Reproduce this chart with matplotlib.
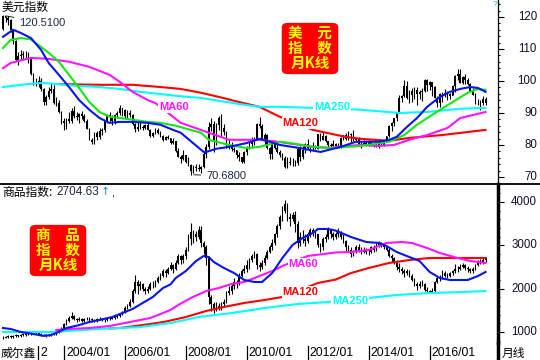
import numpy as np
import matplotlib
matplotlib.use("Agg")
import matplotlib.pyplot as plt
from matplotlib.patches import FancyBboxPatch
from matplotlib.lines import Line2D
from matplotlib.transforms import blended_transform_factory

plt.rcParams['font.family'] = ['Liberation Sans', 'Noto Sans CJK SC', 'DejaVu Sans']
CJK = ['Noto Sans CJK SC', 'DejaVu Sans']

# monthly bars, 2002/01 .. 2017/11 (index 0 = 2002/01)
usd_first_open = 116.2
usd_close = [
    120.3, 119.6, 119.0, 115.8, 112.5, 106.5, 107.9, 108.2, 108.3, 108.5, 106.9, 102.2,
    99.6, 99.6, 99.9, 97.5, 93.3, 95.1, 96.9, 97.6, 93.1, 93.2, 90.2, 86.9,
    87.5, 88.2, 87.5, 90.6, 88.9, 88.6, 89.6, 89.1, 87.6, 85.0, 81.6, 80.9,
    83.6, 82.5, 84.3, 84.6, 87.6, 89.3, 88.6, 87.6, 89.4, 89.9, 91.4, 90.9,
    89.0, 89.9, 89.5, 86.5, 84.9, 85.6, 85.5, 85.4, 86.1, 84.8, 82.9, 83.7,
    84.6, 83.8, 82.9, 81.6, 82.4, 82.1, 80.7, 81.1, 78.0, 76.3, 75.6, 76.7,
    74.6, 73.6, 72.0, 73.2, 72.9, 72.4, 73.2, 77.3, 79.5, 85.6, 86.4, 81.3,
    86.3, 88.4, 85.3, 84.1, 79.3, 80.1, 78.8, 78.4, 76.7, 76.2, 74.8, 77.9,
    79.5, 80.3, 81.1, 81.9, 86.5, 86.0, 81.7, 83.1, 78.9, 77.2, 81.2, 79.0,
    77.9, 76.8, 75.9, 73.0, 74.6, 74.3, 74.4, 74.3, 78.6, 76.2, 78.3, 80.2,
    79.1, 78.9, 79.0, 78.8, 83.3, 81.6, 82.7, 81.2, 79.9, 79.8, 80.2, 79.8,
    79.3, 82.3, 83.0, 82.0, 83.3, 83.1, 81.5, 82.1, 80.2, 80.2, 80.7, 80.0,
    81.2, 79.7, 80.1, 79.5, 80.4, 79.8, 81.5, 82.7, 86.0, 87.0, 88.4, 90.3,
    94.8, 95.3, 98.4, 94.6, 96.9, 95.5, 97.3, 95.9, 96.4, 97.0, 100.2, 98.6,
    99.6, 98.2, 94.6, 93.1, 95.9, 96.1, 95.5, 96.0, 95.4, 98.4, 101.5, 102.2,
    99.5, 101.1, 100.4, 99.1, 97.0, 95.6, 92.9, 92.7, 93.1, 94.5, 93.0,
]
usd_high = [
    120.51, 120.4, 120.2, 119.5, 116.0, 112.8, 108.9, 109.6, 109.3, 109.4, 108.9, 107.2,
    102.6, 101.0, 101.7, 101.0, 97.8, 95.6, 98.2, 99.3, 98.7, 95.0, 94.0, 90.7,
    88.3, 88.5, 90.4, 91.5, 92.3, 90.3, 89.9, 90.7, 89.6, 88.0, 85.2, 82.2,
    84.0, 84.4, 85.3, 85.4, 87.8, 89.6, 90.4, 89.3, 89.8, 90.6, 92.6, 91.6,
    91.3, 91.0, 90.8, 89.7, 86.7, 87.1, 87.5, 86.2, 86.5, 87.2, 85.1, 84.0,
    85.4, 85.3, 84.4, 83.1, 82.7, 83.0, 82.3, 82.1, 81.2, 79.1, 77.0, 78.4,
    76.9, 76.3, 74.1, 73.7, 74.0, 74.0, 73.4, 77.8, 80.4, 87.2, 88.5, 87.4,
    86.7, 89.0, 89.6, 86.6, 84.3, 81.7, 81.0, 79.4, 78.5, 77.8, 76.3, 78.2,
    79.7, 81.3, 82.5, 82.4, 87.0, 88.7, 86.4, 83.6, 83.5, 79.5, 81.5, 81.4,
    81.2, 78.5, 77.4, 76.4, 76.3, 76.2, 75.9, 75.4, 79.0, 79.6, 79.8, 80.6,
    81.8, 79.8, 80.9, 80.0, 83.5, 83.6, 84.1, 83.0, 81.2, 80.6, 81.5, 80.6,
    80.6, 82.4, 83.2, 83.6, 84.5, 83.8, 84.8, 82.5, 82.5, 80.8, 81.5, 81.1,
    81.5, 81.3, 80.6, 80.6, 80.8, 81.1, 81.6, 82.8, 86.2, 87.2, 88.5, 90.4,
    95.5, 95.5, 100.4, 100.0, 97.3, 97.8, 98.2, 98.0, 97.1, 97.8, 100.5, 100.5,
    100.0, 99.8, 98.4, 95.3, 96.3, 96.7, 97.6, 96.9, 96.3, 98.7, 102.0, 103.6,
    103.8, 101.7, 102.3, 101.0, 99.5, 97.8, 96.1, 94.2, 93.9, 95.2, 95.1,
]
usd_low = [
    115.8, 118.4, 117.6, 115.4, 111.6, 106.2, 104.9, 106.7, 106.9, 107.1, 105.5, 101.9,
    98.6, 98.4, 98.1, 96.8, 92.4, 92.6, 94.5, 96.3, 92.8, 92.1, 90.1, 86.6,
    84.7, 85.1, 87.0, 86.9, 88.4, 87.7, 86.8, 88.2, 87.3, 84.9, 81.5, 80.4,
    80.4, 81.6, 81.7, 83.0, 83.9, 86.9, 87.6, 86.3, 86.5, 88.4, 89.5, 88.9,
    88.3, 88.5, 88.6, 86.3, 83.9, 84.4, 84.9, 84.7, 84.9, 84.6, 82.5, 82.4,
    83.5, 83.3, 82.6, 81.2, 81.4, 81.9, 80.3, 80.2, 77.9, 76.1, 74.5, 75.4,
    74.4, 73.4, 70.68, 71.3, 71.9, 71.7, 71.3, 72.9, 75.8, 78.6, 84.4, 77.7,
    79.9, 84.6, 82.6, 83.0, 79.1, 78.6, 78.2, 77.7, 76.0, 74.9, 74.2, 74.3,
    76.8, 78.8, 79.0, 80.1, 81.5, 85.2, 81.5, 80.1, 78.7, 75.6, 75.7, 78.6,
    77.5, 76.3, 75.3, 72.8, 72.7, 73.6, 73.4, 73.4, 73.8, 74.9, 75.6, 77.5,
    78.6, 77.7, 78.1, 78.6, 78.7, 81.3, 81.5, 80.9, 78.6, 79.1, 79.7, 79.0,
    78.9, 79.1, 81.4, 81.5, 81.5, 80.5, 81.3, 80.8, 79.9, 79.0, 80.0, 79.7,
    79.8, 79.7, 79.2, 79.2, 78.9, 79.8, 79.8, 81.2, 82.5, 84.5, 85.8, 87.6,
    90.0, 93.4, 95.1, 94.5, 93.1, 93.3, 94.3, 92.6, 94.2, 93.8, 96.6, 96.9,
    97.3, 95.2, 94.6, 91.9, 91.9, 93.4, 95.0, 94.0, 94.5, 95.5, 96.6, 100.4,
    99.4, 99.2, 98.9, 98.8, 96.8, 95.5, 92.8, 92.5, 91.0, 92.5, 92.5,
]

cmd_first_open = 860
cmd_close = [
    870, 880, 900, 890, 910, 920, 910, 930, 950, 940, 960, 980,
    990, 980, 950, 940, 930, 920, 930, 950, 960, 990, 1030, 1080,
    1180, 1250, 1330, 1380, 1300, 1280, 1300, 1260, 1300, 1310, 1290, 1270,
    1260, 1290, 1310, 1280, 1270, 1300, 1310, 1330, 1350, 1370, 1400, 1450,
    1550, 1600, 1700, 1950, 2150, 2050, 2100, 2000, 1950, 2000, 2100, 2100,
    2150, 2250, 2300, 2400, 2350, 2450, 2550, 2450, 2600, 2750, 2650, 2750,
    2900, 3150, 3300, 3250, 3200, 3350, 3050, 2950, 2700, 1800, 1650, 1550,
    1600, 1550, 1650, 1700, 1900, 1950, 2050, 2150, 2100, 2300, 2400, 2450,
    2550, 2650, 2750, 2800, 2550, 2500, 2600, 2700, 2850, 2950, 3050, 3250,
    3450, 3650, 3800, 3950, 3650, 3600, 3700, 3500, 3050, 3200, 3150, 3100,
    3250, 3350, 3300, 3250, 3000, 2950, 3150, 3200, 3350, 3250, 3200, 3250,
    3300, 3200, 3100, 2950, 2900, 2800, 2850, 2950, 2900, 2850, 2900, 2850,
    2850, 2950, 2900, 3000, 3050, 3000, 2950, 2900, 2750, 2700, 2600, 2500,
    2450, 2400, 2350, 2400, 2300, 2200, 2100, 2050, 2100, 2100, 1980, 1950,
    1920, 1950, 2150, 2250, 2250, 2350, 2300, 2300, 2350, 2400, 2450, 2450,
    2500, 2550, 2480, 2450, 2400, 2450, 2550, 2600, 2620, 2650, 2704.63,
]
cmd_high = [
    900, 905, 925, 920, 935, 945, 940, 955, 975, 970, 985, 1005,
    1020, 1015, 995, 975, 965, 955, 960, 980, 990, 1020, 1060, 1110,
    1210, 1290, 1370, 1460, 1400, 1330, 1340, 1320, 1330, 1350, 1340, 1320,
    1300, 1320, 1350, 1330, 1310, 1330, 1340, 1360, 1380, 1400, 1430, 1480,
    1600, 1650, 1750, 2000, 2315, 2200, 2180, 2120, 2030, 2060, 2160, 2180,
    2200, 2300, 2360, 2460, 2450, 2500, 2620, 2580, 2650, 2800, 2780, 2800,
    2950, 3250, 3515, 3350, 3320, 3450, 3450, 3100, 3000, 2750, 1850, 1700,
    1700, 1680, 1700, 1760, 1950, 2050, 2100, 2250, 2200, 2350, 2450, 2550,
    2650, 2700, 2800, 2880, 2820, 2620, 2660, 2780, 2900, 3000, 3150, 3280,
    3500, 3700, 3900, 4046, 3980, 3750, 3780, 3800, 3550, 3300, 3350, 3250,
    3300, 3400, 3400, 3340, 3270, 3050, 3200, 3260, 3420, 3380, 3300, 3300,
    3400, 3340, 3250, 3120, 3010, 2950, 2900, 3000, 3020, 2960, 2960, 2940,
    2920, 2990, 3000, 3060, 3100, 3080, 3030, 2970, 2930, 2800, 2740, 2650,
    2590, 2500, 2450, 2460, 2440, 2340, 2240, 2150, 2170, 2200, 2130, 2030,
    1980, 2010, 2180, 2300, 2320, 2420, 2400, 2360, 2390, 2430, 2560, 2530,
    2560, 2600, 2580, 2520, 2480, 2490, 2580, 2660, 2680, 2700, 2740,
]
cmd_low = [
    840, 850, 860, 865, 870, 890, 890, 895, 910, 915, 920, 940,
    955, 955, 930, 915, 905, 895, 900, 910, 925, 940, 970, 1010,
    1060, 1150, 1220, 1300, 1270, 1240, 1250, 1230, 1240, 1270, 1260, 1230,
    1230, 1240, 1270, 1250, 1230, 1250, 1270, 1290, 1310, 1330, 1350, 1390,
    1430, 1520, 1570, 1680, 1900, 1880, 1980, 1950, 1880, 1900, 1960, 2020,
    2030, 2120, 2200, 2280, 2280, 2330, 2420, 2350, 2420, 2580, 2560, 2600,
    2680, 2880, 3000, 3050, 3100, 3150, 2950, 2800, 2550, 1650, 1480, 1440,
    1480, 1500, 1500, 1600, 1680, 1850, 1880, 2000, 2020, 2080, 2260, 2350,
    2380, 2450, 2620, 2700, 2450, 2400, 2460, 2550, 2680, 2820, 2900, 3000,
    3200, 3380, 3550, 3750, 3550, 3450, 3550, 3300, 2940, 2980, 3050, 2980,
    3050, 3200, 3220, 3180, 2950, 2850, 2900, 3080, 3150, 3180, 3120, 3140,
    3200, 3150, 3050, 2850, 2850, 2730, 2760, 2820, 2850, 2800, 2820, 2800,
    2780, 2820, 2850, 2870, 2960, 2950, 2920, 2860, 2720, 2620, 2560, 2420,
    2380, 2340, 2280, 2320, 2270, 2170, 2060, 1980, 2020, 2050, 1950, 1900,
    1890, 1900, 1930, 2130, 2180, 2220, 2260, 2240, 2270, 2320, 2360, 2390,
    2420, 2470, 2440, 2390, 2350, 2360, 2430, 2520, 2560, 2580, 2610,
]

# moving-average lines: (month index, value)
usd_blue_m = [0, 4, 7, 11, 15, 18, 22, 26, 30, 34, 38, 42, 46, 51, 57, 62, 67, 70, 79, 80, 84,
              89, 96, 101, 105, 109, 117, 125, 133, 139, 148, 152, 155, 159, 163, 167, 172,
              176, 180, 184, 187, 190]
usd_blue_v = [113.8, 116.0, 115.0, 113.4, 109.7, 105.6, 101.9, 98.1, 94.0, 91.0, 88.4, 86.9,
              87.2, 87.2, 86.9, 86.3, 84.7, 83.8, 77.8, 77.8, 78.8, 79.4, 80.6, 81.9, 81.0,
              80.0, 79.0, 77.8, 79.4, 81.0, 81.0, 81.6, 82.5, 85.6, 88.4, 91.9, 95.0, 96.6,
              97.5, 98.1, 97.8, 96.6]
usd_green_m = [0, 3, 7, 11, 15, 18, 22, 26, 30, 34, 38, 42, 50, 57, 62, 68, 78, 81, 89, 96,
               101, 109, 113, 122, 129, 141, 152, 158, 163, 167, 172, 177, 183, 187, 190]
usd_green_v = [110.3, 112.8, 113.4, 113.0, 110.6, 108.8, 106.0, 101.9, 97.8, 93.4, 90.3,
               88.8, 88.0, 87.2, 86.9, 86.0, 83.8, 81.6, 80.0, 79.0, 79.4, 81.0, 80.6, 79.4,
               79.0, 79.7, 81.0, 83.1, 86.3, 88.4, 90.9, 93.4, 96.3, 97.5, 97.2]
usd_ma60_m = [0, 3, 11, 18, 26, 34, 42, 46, 51, 57, 60, 70, 80, 89, 101, 109, 122, 129, 135,
              141, 148, 154, 160, 167, 175, 180, 190]
usd_ma60_v = [104.0, 105.6, 107.2, 106.9, 106.0, 104.4, 101.9, 99.7, 96.6, 94.0, 93.1, 86.9,
              84.1, 81.6, 81.6, 80.9, 79.4, 79.1, 79.7, 80.0, 79.7, 80.0, 81.6, 83.1, 85.3,
              88.4, 90.3]
usd_ma120_m = [22, 38, 51, 62, 70, 78, 85, 93, 101, 109, 122, 135, 141, 152, 160, 173, 190]
usd_ma120_v = [99.0, 98.8, 98.8, 98.1, 97.5, 96.3, 95.0, 93.4, 91.9, 88.8, 84.7, 82.5, 81.9,
               81.3, 82.2, 83.1, 84.7]
usd_ma250_m = [0, 7, 15, 22, 30, 38, 46, 54, 62, 70, 78, 85, 93, 101, 109, 121, 141, 156,
               167, 180, 190]
usd_ma250_v = [98.1, 98.8, 99.4, 99.0, 98.4, 98.1, 97.5, 96.6, 95.9, 95.2, 94.7, 93.8, 92.8,
               91.9, 91.9, 91.6, 91.0, 90.0, 90.3, 91.3, 91.6]

cmd_blue_m = [0, 3, 7, 12, 16, 19, 21, 25, 30, 34, 38, 43, 47, 51, 55, 59, 63, 66, 68, 72, 76,
              79, 81, 83, 87, 91, 95, 99, 102, 106, 110, 114, 118, 122, 124, 128, 131, 137,
              143, 148, 151, 155, 160, 164, 168, 172, 176, 183, 187, 190]
cmd_blue_v = [1092, 1070, 1000, 953, 910, 930, 980, 1092, 1160, 1230, 1277, 1346, 1438, 1530,
              1670, 1808, 2015, 2100, 2246, 2408, 2638, 2754, 2730, 2615, 2477, 2360, 2200,
              2154, 2154, 2360, 2708, 3008, 3170, 3285, 3377, 3377, 3340, 3192, 3077, 3054,
              2985, 2846, 2730, 2638, 2385, 2246, 2200, 2200, 2292, 2385]
cmd_ma60_m = [21, 26, 34, 42, 50, 58, 63, 66, 69, 74, 80, 85, 90, 95, 99, 103, 107, 110, 120,
              131, 137, 144, 151, 157, 161, 167, 172, 179, 184, 190]
cmd_ma60_v = [1046, 1070, 1092, 1138, 1230, 1323, 1438, 1510, 1623, 1785, 1946, 2015, 2108,
              2154, 2246, 2338, 2431, 2523, 2754, 2835, 2846, 2892, 3054, 3077, 3054, 2938,
              2823, 2708, 2638, 2592]
cmd_ma120_m = [42, 46, 58, 64, 72, 80, 87, 95, 103, 110, 124, 131, 137, 144, 152, 160, 168, 190]
cmd_ma120_v = [1080, 1092, 1184, 1240, 1346, 1484, 1577, 1670, 1738, 1808, 2131, 2210, 2360,
               2477, 2592, 2661, 2708, 2708]
cmd_ma250_m = [0, 19, 38, 54, 66, 77, 90, 103, 116, 128, 144, 155, 168, 181, 190]
cmd_ma250_v = [1000, 1000, 1070, 1115, 1207, 1346, 1438, 1553, 1646, 1692, 1785, 1854, 1900,
               1923, 1946]

year_labels = ['2004/01', '2006/01', '2008/01', '2010/01', '2012/01', '2014/01', '2016/01']
year_label_m = [24, 48, 72, 96, 120, 144, 168]

BLUE, GREEN, MAG, RED, CYAN = '#0a14f0', '#14e614', '#ff14ff', '#ff0000', '#00ffff'
W, H = 540, 360
fig = plt.figure(figsize=(W / 100, H / 100), dpi=100)
fig.patch.set_facecolor('white')


def px_axes(x0, y0, x1, y1):
    return fig.add_axes([x0 / W, 1 - y1 / H, (x1 - x0) / W, (y1 - y0) / H])


def draw_candles(ax, first_open, closes, highs, lows):
    closes = np.asarray(closes, float)
    opens = np.r_[first_open, closes[:-1]]
    idx = np.arange(len(closes))
    ax.vlines(idx, lows, highs, color='black', lw=0.8, zorder=2)
    ax.bar(idx, np.abs(closes - opens), bottom=np.minimum(opens, closes), width=0.65,
           color='black', lw=0, zorder=2)


def style_axes(ax, ylim, major, minor, labels, spine_w):
    ax.set_xlim(-1.18, 194.9)
    ax.set_ylim(*ylim)
    for s in ['top', 'left', 'bottom']:
        ax.spines[s].set_visible(False)
    ax.spines['right'].set_linewidth(spine_w)
    ax.set_xticks([])
    ax.yaxis.tick_right()
    ax.set_yticks(major)
    ax.set_yticks(minor, minor=True)
    ax.set_yticklabels([])
    ax.tick_params(axis='y', which='major', length=4.5, width=0.8, direction='out')
    ax.tick_params(axis='y', which='minor', length=1.2, width=0.8, direction='out')
    tr = blended_transform_factory(fig.transFigure, ax.transData)
    for v, t in zip(major, labels):
        ax.text(537 / W, v, t, transform=tr, ha='right', va='center', fontsize=8.3,
                color='#101030', clip_on=False)


ax1 = px_axes(0, 0, 498, 183)
ax2 = px_axes(0, 184, 498, 343)

draw_candles(ax1, usd_first_open, usd_close, usd_high, usd_low)
ax1.plot(usd_ma120_m, usd_ma120_v, color=RED, lw=1.5, zorder=3)
ax1.plot(usd_ma250_m, usd_ma250_v, color=CYAN, lw=1.5, zorder=3)
ax1.plot(usd_ma60_m, usd_ma60_v, color=MAG, lw=1.5, zorder=3)
ax1.plot(usd_green_m, usd_green_v, color=GREEN, lw=1.5, zorder=3)
ax1.plot(usd_blue_m, usd_blue_v, color=BLUE, lw=1.5, zorder=3)
style_axes(ax1, (68.1, 125.3), [70, 80, 90, 100, 110, 120], np.arange(70, 125, 2),
           ['70', '80', '90', '100', '110', '120'], 0.9)

draw_candles(ax2, cmd_first_open, cmd_close, cmd_high, cmd_low)
ax2.plot(cmd_ma120_m, cmd_ma120_v, color=RED, lw=1.5, zorder=3)
ax2.plot(cmd_ma250_m, cmd_ma250_v, color=CYAN, lw=1.5, zorder=3)
ax2.plot(cmd_ma60_m, cmd_ma60_v, color=MAG, lw=1.5, zorder=3)
ax2.plot(cmd_blue_m, cmd_blue_v, color=BLUE, lw=1.5, zorder=3)
style_axes(ax2, (746, 4415), [1000, 2000, 3000, 4000], np.arange(800, 4400, 200),
           ['1000', '2000', '3000', '4000'], 2.5)

# MA labels sit on the lines with a white background
lab_box = dict(facecolor='white', edgecolor='none', pad=0.6)
for ax, m, v, t, c in [(ax1, 61.5, 91.7, 'MA60', MAG), (ax1, 110, 86.9, 'MA120', RED),
                       (ax1, 122.5, 91.8, 'MA250', CYAN), (ax2, 112.5, 2570, 'MA60', MAG),
                       (ax2, 110, 1925, 'MA120', RED), (ax2, 129.5, 1715, 'MA250', CYAN)]:
    ax.text(m, v, t, color=c, fontsize=8, fontweight='bold', va='center', ha='left',
            bbox=lab_box, zorder=5)

# extreme marks
ax1.annotate('120.5100', xy=(0, 120.51), xytext=(6.5, 118.2), fontsize=8, color='#202848',
             va='center', arrowprops=dict(arrowstyle='-', color='black', lw=0.6))
ax1.annotate('70.6800', xy=(74, 70.68), xytext=(80, 70.4), fontsize=8, color='#202848',
             va='center', arrowprops=dict(arrowstyle='-', color='black', lw=0.6))

# separator between panels
fig.add_artist(Line2D([0, 1], [1 - 183.5 / H] * 2, color='black', lw=1.3))


def ftext(x, y, s, **kw):
    fig.text(x / W, 1 - y / H, s, **kw)


ftext(2, 7, '美元指数', fontsize=8.5, family=CJK, va='center')
ftext(2, 192, '商品指数:', fontsize=8.5, family=CJK, va='center')
ftext(56, 192, '2704.63', fontsize=8.5, va='center', color='#202848')
ftext(101, 192, '↑', fontsize=8, va='center', color='#1090d0', family=['DejaVu Sans'])
ftext(111, 193, ',', fontsize=8, va='center')
ftext(493, 5, '?', fontsize=6, va='center', color='#20b0e0')

# red badges
for x0, y0, lines in [(282, 22, ['美　元', '指　数', '月K线']),
                      (30, 224, ['商　品', '指　数', '月K线'])]:
    fig.add_artist(FancyBboxPatch(((x0 + 3) / W, 1 - (y0 + 50) / H), 50 / W, 47 / H,
                                  boxstyle='round,pad=0.006,rounding_size=0.012',
                                  transform=fig.transFigure, facecolor='#ff0000',
                                  edgecolor='none'))
    for i, s in enumerate(lines):
        ftext(x0 + 28, y0 + 11 + 15 * i, s, fontsize=10.5, fontweight='bold',
              color='#ffff00', family=CJK, ha='center', va='center')

# date row
for m, t in zip(year_label_m, year_labels):
    xp = 3 + 2.54 * m
    fig.add_artist(Line2D([xp / W] * 2, [0, 1 - 346 / H], color='black', lw=0.9))
    ftext(xp + 2, 353, t, fontsize=8.7, va='center')
fig.add_artist(Line2D([38 / W] * 2, [0, 1 - 346 / H], color='black', lw=0.9))
ftext(40, 353, '2', fontsize=8.7, va='center')
fig.add_artist(Line2D([498 / W] * 2, [0, 1 - 343 / H], color='black', lw=2.5))
ftext(1, 353, '威尔鑫', fontsize=8.5, family=CJK, va='center')
ftext(502, 353, '月线', fontsize=8.5, family=CJK, va='center')

fig.savefig('out.png', dpi=100, facecolor='white')
